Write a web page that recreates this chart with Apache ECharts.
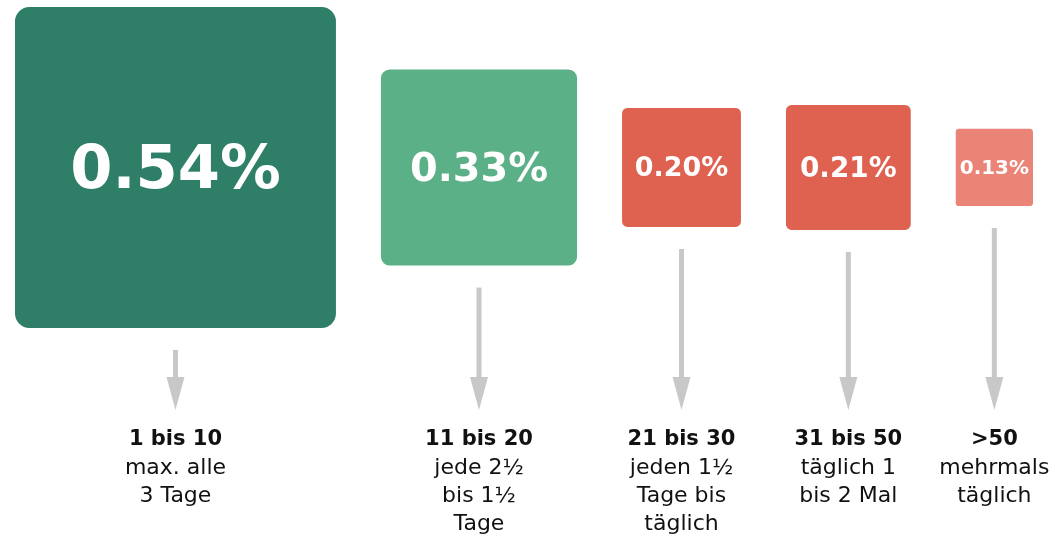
<!DOCTYPE html>
<html><head><meta charset="utf-8">
<script src="https://cdn.jsdelivr.net/npm/echarts@6/dist/echarts.min.js"></script>
<style>html,body{margin:0;padding:0;background:#fff}#c{width:1055px;height:538px}</style>
</head><body><div id="c"></div>
<script>
// ---- data ----
const categories = ['1 bis 10', '11 bis 20', '21 bis 30', '31 bis 50', '>50'];
const descriptions = [
  ['max. alle', '3 Tage'],
  ['jede 2½', 'bis 1½', 'Tage'],
  ['jeden 1½', 'Tage bis', 'täglich'],
  ['täglich 1', 'bis 2 Mal'],
  ['mehrmals', 'täglich']
];
const values = [0.54, 0.33, 0.20, 0.21, 0.13];
const palette = ['#2e7e68', '#5bb088', '#df6150', '#df6150', '#ea8477'];

// ---- layout (in value units, 1 unit = 1 percentage point) ----
const GAP = 0.0757;
const starts = [];
let acc = 0;
values.forEach(v => { starts.push(acc); acc += v + GAP; });
const TOTAL = acc - GAP;
const Y_MAX = 0.2818, Y_MIN = -0.6234;
const ARROW_END = -0.408;
const LABEL_TOP = -0.435;

const seriesData = values.map((v, i) => [starts[i], v, i]);

const FONT = '"DejaVu Sans", sans-serif';

function renderItem(params, api) {
  const x0 = api.value(0), v = api.value(1), i = api.value(2);
  const p0 = api.coord([x0, v / 2]);
  const p1 = api.coord([x0 + v, -v / 2]);
  const w = p1[0] - p0[0], h = p1[1] - p0[1];
  const cx = (p0[0] + p1[0]) / 2, cy = (p0[1] + p1[1]) / 2;
  const arrowTop = p1[1] + 22;
  const arrowEnd = api.coord([0, ARROW_END])[1];
  const labelTop = api.coord([0, LABEL_TOP])[1];
  const headH = 33, headW = 18;
  const fs = (8 + w * 0.19) * 0.88;
  const lines = ['{b|' + categories[i] + '}'].concat(descriptions[i].map(s => '{n|' + s + '}'));
  return {
    type: 'group',
    children: [
      { type: 'rect', shape: { x: p0[0], y: p0[1], width: w, height: h, r: w * 0.045 }, style: { fill: palette[i] } },
      { type: 'text', style: { text: values[i].toFixed(2) + '%', x: cx, y: cy + fs * 0.07, align: 'center', verticalAlign: 'middle', fill: '#ffffff', fontFamily: FONT, fontWeight: 'bold', fontSize: fs } },
      { type: 'rect', shape: { x: cx - 2.5, y: arrowTop, width: 5, height: arrowEnd - headH - arrowTop + 1 }, style: { fill: '#c8c8c8' } },
      { type: 'polygon', shape: { points: [[cx - headW / 2, arrowEnd - headH], [cx + headW / 2, arrowEnd - headH], [cx, arrowEnd]] }, style: { fill: '#c8c8c8' } },
      { type: 'text', style: {
          text: lines.join('\n'), x: cx, y: labelTop, align: 'center', verticalAlign: 'top',
          rich: {
            b: { fontFamily: FONT, fontWeight: 'bold', fontSize: 21, lineHeight: 28, fill: '#111111', align: 'center' },
            n: { fontFamily: FONT, fontSize: 22, lineHeight: 28, fill: '#111111', align: 'center' }
          }
      } }
    ]
  };
}

const chart = echarts.init(document.getElementById('c'), null, { renderer: 'canvas' });
chart.setOption({
  backgroundColor: '#ffffff',
  animation: false,
  grid: { left: 15, width: 1018, top: 0, height: 538 },
  xAxis: { type: 'value', min: 0, max: TOTAL, show: false },
  yAxis: { type: 'value', min: Y_MIN, max: Y_MAX, show: false },
  series: [{ type: 'custom', renderItem: renderItem, data: seriesData, clip: false }]
});
</script>
</body></html>
